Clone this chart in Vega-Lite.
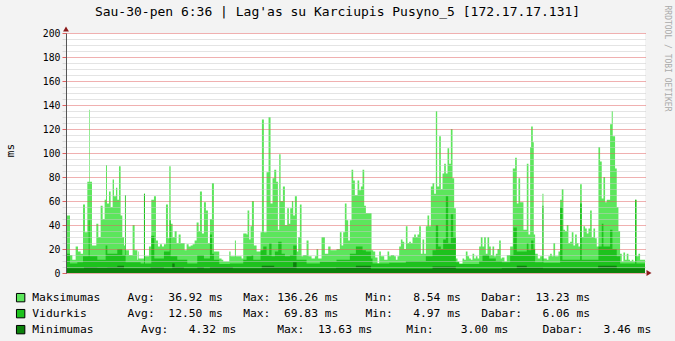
{
"$schema":"https://vega.github.io/schema/vega-lite/v6.json",
"width":579,"height":240,
"autosize":"none",
"padding":{"left":66,"top":33,"right":30,"bottom":68},
"background":"#F3F3F3",
"config":{"view":{"fill":"#FFFFFF","stroke":null},"font":"DejaVu Sans Mono","axis":{"labelFont":"DejaVu Sans Mono","titleFont":"DejaVu Sans Mono"}},
"title":{"text":"Sau-30-pen 6:36 | Lag'as su Karciupis Pusyno_5 [172.17.17.131]","font":"DejaVu Sans Mono","fontSize":13,"fontWeight":"normal","color":"#000000","anchor":"middle","frame":"group","dx":-18,"dy":27,"offset":13},
"datasets":{
"mx":[{"t":6.6,"v":48},{"t":7.76,"v":15},{"t":8.44,"v":11},{"t":9.40,"v":22},{"t":10.08,"v":18},{"t":10.85,"v":16},{"t":11.53,"v":57},{"t":12.11,"v":34},{"t":12.79,"v":76},{"t":13.37,"v":136},{"t":13.56,"v":76},{"t":14.14,"v":23},{"t":15.40,"v":41},{"t":15.98,"v":30},{"t":16.65,"v":56},{"t":17.23,"v":45},{"t":17.81,"v":61},{"t":18.20,"v":90},{"t":18.49,"v":58},{"t":19.07,"v":68},{"t":19.55,"v":55},{"t":20.13,"v":78},{"t":20.52,"v":64},{"t":21.10,"v":71},{"t":21.49,"v":61},{"t":21.97,"v":89},{"t":22.45,"v":48},{"t":22.94,"v":30},{"t":23.42,"v":23},{"t":23.71,"v":65},{"t":23.90,"v":19},{"t":24.87,"v":15},{"t":25.93,"v":40},{"t":26.51,"v":19},{"t":27.29,"v":11},{"t":27.48,"v":18},{"t":27.67,"v":12},{"t":29.22,"v":66},{"t":29.51,"v":14},{"t":30.67,"v":22},{"t":31.35,"v":61},{"t":32.12,"v":64},{"t":32.70,"v":27},{"t":33.28,"v":22},{"t":33.86,"v":24},{"t":34.44,"v":22},{"t":35.02,"v":24},{"t":35.60,"v":57},{"t":36.18,"v":29},{"t":36.57,"v":89},{"t":36.96,"v":41},{"t":37.54,"v":30},{"t":38.12,"v":35},{"t":38.70,"v":25},{"t":39.28,"v":32},{"t":39.86,"v":25},{"t":41.02,"v":19},{"t":41.60,"v":24},{"t":42.18,"v":22},{"t":42.76,"v":23},{"t":43.34,"v":24},{"t":43.92,"v":27},{"t":44.50,"v":42},{"t":45.08,"v":35},{"t":45.46,"v":68},{"t":46.04,"v":33},{"t":46.62,"v":59},{"t":47.20,"v":52},{"t":47.78,"v":25},{"t":48.36,"v":45},
{"t":48.94,"v":75},{"t":49.52,"v":18},{"t":51.07,"v":12},{"t":51.74,"v":11},{"t":52.23,"v":9.5},{"t":53.97,"v":18},{"t":54.35,"v":14},{"t":55.61,"v":27},{"t":55.90,"v":14},{"t":57.54,"v":12},{"t":58.03,"v":33},{"t":58.99,"v":32},{"t":59.28,"v":52},{"t":59.77,"v":28},{"t":60.15,"v":39},{"t":60.54,"v":60},{"t":61.12,"v":23},{"t":61.90,"v":18},{"t":63.05,"v":34},{"t":63.44,"v":128},{"t":64.02,"v":34},{"t":64.79,"v":84},{"t":65.37,"v":130},{"t":65.95,"v":58},{"t":66.53,"v":79},{"t":67.02,"v":86},{"t":67.60,"v":76},{"t":68.08,"v":36},{"t":68.47,"v":99},{"t":68.86,"v":60},{"t":69.53,"v":72},{"t":70.11,"v":40},{"t":70.79,"v":54},{"t":71.27,"v":41},{"t":71.66,"v":54},{"t":72.14,"v":60},{"t":72.53,"v":48},{"t":73.01,"v":64},{"t":73.59,"v":18},{"t":73.98,"v":30},{"t":74.46,"v":57},{"t":74.95,"v":14},{"t":75.43,"v":15},{"t":76.40,"v":27},{"t":76.98,"v":14},{"t":77.85,"v":12},{"t":78.81,"v":14},{"t":79.30,"v":20},{"t":79.78,"v":12},{"t":80.75,"v":30},{"t":81.71,"v":16},{"t":82.68,"v":22},{"t":83.36,"v":19},{"t":85.09,"v":20},{"t":86.06,"v":34},{"t":86.55,"v":23},{"t":87.03,"v":34},{"t":87.51,"v":58},{"t":88.00,"v":44},{"t":88.48,"v":27},{"t":88.96,"v":44},{"t":89.45,"v":86},{"t":89.93,"v":77},{"t":90.41,"v":65},
{"t":91.19,"v":77},{"t":91.68,"v":69},{"t":92.16,"v":72},{"t":92.64,"v":86},{"t":93.13,"v":56},{"t":93.61,"v":50},{"t":95.25,"v":19},{"t":95.74,"v":18},{"t":96.32,"v":13},{"t":96.99,"v":8},{"t":97.48,"v":18},{"t":97.96,"v":14},{"t":98.93,"v":11},{"t":99.89,"v":18},{"t":100.38,"v":14},{"t":100.86,"v":15},{"t":101.83,"v":14},{"t":102.31,"v":11},{"t":102.79,"v":14},{"t":103.28,"v":22},{"t":103.76,"v":28},{"t":104.24,"v":26},{"t":104.73,"v":20},{"t":105.21,"v":39},{"t":105.69,"v":25},{"t":106.18,"v":26},{"t":106.66,"v":25},{"t":107.14,"v":30},{"t":107.63,"v":32},{"t":108.11,"v":30},{"t":108.59,"v":32},{"t":109.08,"v":39},{"t":109.56,"v":16},{"t":110.04,"v":28},{"t":110.53,"v":16},{"t":111.01,"v":39},{"t":111.49,"v":48},{"t":111.98,"v":39},{"t":112.46,"v":72},{"t":112.95,"v":75},{"t":113.43,"v":66},{"t":113.91,"v":135},{"t":114.30,"v":72},{"t":114.88,"v":114},{"t":115.36,"v":70},{"t":115.85,"v":83},{"t":116.33,"v":91},{"t":116.81,"v":83},{"t":117.30,"v":104},{"t":117.78,"v":91},{"t":118.26,"v":120},{"t":118.75,"v":79},{"t":119.23,"v":54},{"t":119.71,"v":12},{"t":120.20,"v":9.5},{"t":120.68,"v":8},{"t":121.65,"v":12},{"t":122.13,"v":11},{"t":122.61,"v":18},{"t":123.10,"v":14},{"t":123.58,"v":12},{"t":124.06,"v":11},{"t":124.55,"v":16},{"t":125.03,"v":12},{"t":125.51,"v":14},{"t":126.00,"v":12},{"t":126.48,"v":22},{"t":126.96,"v":30},{"t":127.45,"v":22},{"t":127.93,"v":30},{"t":128.41,"v":16},{"t":128.90,"v":30},{"t":129.38,"v":22},{"t":129.86,"v":15},{"t":130.35,"v":22},{"t":130.83,"v":14},{"t":131.31,"v":16},{"t":131.80,"v":20},{"t":132.28,"v":27},{"t":132.76,"v":12},
{"t":133.05,"v":13},{"t":133.82,"v":9.5},{"t":134.50,"v":15},{"t":135.47,"v":22},{"t":136.24,"v":87},{"t":136.92,"v":96},{"t":137.40,"v":58},{"t":137.88,"v":79},{"t":138.37,"v":59},{"t":139.33,"v":36},{"t":140.30,"v":91},{"t":140.78,"v":32},{"t":141.27,"v":105},{"t":141.56,"v":122},{"t":142.04,"v":109},{"t":142.33,"v":32},{"t":142.72,"v":16},{"t":143.49,"v":12},{"t":144.17,"v":14},{"t":144.84,"v":66},{"t":145.13,"v":12},{"t":146.10,"v":11},{"t":146.58,"v":14},{"t":147.07,"v":16},{"t":147.55,"v":14},{"t":148.03,"v":25},{"t":148.52,"v":14},{"t":149.48,"v":18},{"t":149.97,"v":61},{"t":150.45,"v":70},{"t":150.93,"v":36},{"t":151.42,"v":35},{"t":151.90,"v":40},{"t":152.38,"v":25},{"t":152.87,"v":26},{"t":153.35,"v":34},{"t":153.83,"v":23},{"t":154.32,"v":32},{"t":154.80,"v":25},{"t":155.29,"v":22},{"t":155.77,"v":74},{"t":156.25,"v":30},{"t":156.74,"v":39},{"t":157.22,"v":37},{"t":157.70,"v":33},{"t":158.19,"v":37},{"t":158.67,"v":52},{"t":159.15,"v":30},{"t":159.64,"v":37},{"t":160.12,"v":29},{"t":160.60,"v":22},{"t":161.09,"v":105},{"t":161.57,"v":93},{"t":162.05,"v":62},{"t":162.54,"v":80},{"t":163.02,"v":59},{"t":163.50,"v":61},{"t":164.47,"v":124},{"t":164.95,"v":135},{"t":165.24,"v":114},{"t":165.92,"v":87},{"t":166.40,"v":55},{"t":166.89,"v":35},{"t":167.37,"v":16},{"t":167.85,"v":9.5},{"t":168.34,"v":17},{"t":168.82,"v":11},{"t":169.30,"v":16},{"t":169.79,"v":11},{"t":170.27,"v":10},{"t":170.75,"v":11},{"t":171.24,"v":9.5},{"t":171.72,"v":61},{"t":172.11,"v":14},{"t":172.69,"v":16},{"t":173.17,"v":11},{"t":174.6,"v":11}],
"av":[{"t":6.6,"v":16},{"t":7.76,"v":8},{"t":9.89,"v":9},{"t":11.53,"v":14},{"t":13.17,"v":44},{"t":13.46,"v":14},{"t":15.69,"v":11},{"t":18.10,"v":23},{"t":18.59,"v":16},{"t":21.49,"v":20},{"t":22.94,"v":15},{"t":23.71,"v":65},{"t":23.90,"v":9},{"t":28.25,"v":8},{"t":29.22,"v":66},{"t":29.51,"v":8},{"t":31.35,"v":31},{"t":32.22,"v":12},{"t":35.02,"v":18},{"t":36.67,"v":44},{"t":36.96,"v":14},{"t":38.89,"v":11},{"t":41.79,"v":8},{"t":44.69,"v":15},{"t":46.62,"v":12},
{"t":48.36,"v":32},{"t":48.94,"v":16},{"t":49.52,"v":11},{"t":51.07,"v":7.5},{"t":54.16,"v":8},{"t":58.03,"v":11},{"t":58.99,"v":14},{"t":60.45,"v":15},{"t":60.93,"v":11},{"t":63.05,"v":19},{"t":63.83,"v":22},{"t":64.79,"v":15},{"t":65.57,"v":25},{"t":66.24,"v":14},{"t":67.21,"v":18},{"t":68.18,"v":26},{"t":69.15,"v":16},{"t":70.11,"v":14},{"t":71.56,"v":15},{"t":72.53,"v":23},{"t":73.49,"v":11},{"t":76.40,"v":8},{"t":80.26,"v":9.5},{"t":85.09,"v":11},{"t":88.96,"v":16},
{"t":90.71,"v":22},{"t":92.64,"v":19},{"t":93.61,"v":18},{"t":95.06,"v":12},{"t":95.54,"v":8},{"t":100.38,"v":8.5},{"t":105.21,"v":10},{"t":111.01,"v":14},{"t":112.95,"v":19},{"t":113.91,"v":40},{"t":114.59,"v":22},{"t":115.36,"v":20},{"t":116.04,"v":28},{"t":116.81,"v":64},{"t":117.49,"v":25},{"t":118.26,"v":49},{"t":118.94,"v":30},{"t":119.71,"v":9},{"t":120.68,"v":7.5},{"t":126.48,"v":10},{"t":127.45,"v":15},{"t":129.38,"v":12},{"t":131.31,"v":10},
{"t":133.05,"v":9},{"t":135.47,"v":15},{"t":136.43,"v":38},{"t":137.40,"v":18},{"t":140.30,"v":25},{"t":140.78,"v":19},{"t":141.56,"v":27},{"t":142.24,"v":20},{"t":142.72,"v":9},{"t":144.84,"v":56},{"t":145.13,"v":8.6},{"t":149.97,"v":55},{"t":150.65,"v":11},{"t":155.77,"v":58},{"t":156.25,"v":11},{"t":161.09,"v":22},{"t":162.05,"v":41},{"t":162.54,"v":22},{"t":164.47,"v":36},{"t":165.15,"v":20},{"t":166.40,"v":14},{"t":167.37,"v":8},{"t":171.72,"v":61},{"t":172.11,"v":8},{"t":174.6,"v":8}],
"mn":[{"t":6.6,"v":4},{"t":11.82,"v":5},{"t":15.69,"v":4.5},{"t":18.59,"v":5},{"t":21.49,"v":6},{"t":23.42,"v":4},{"t":31.16,"v":5},{"t":35.02,"v":4},{"t":37.44,"v":8},{"t":38.12,"v":5},{"t":40.82,"v":4},{"t":44.69,"v":5},{"t":46.62,"v":4},{"t":48.36,"v":5},{"t":55,"v":4},{"t":63.4,"v":6},{"t":67,"v":5},{"t":72.5,"v":9},{"t":73.5,"v":4},{"t":85,"v":4.5},{"t":90.71,"v":6},{"t":95.06,"v":3.5},{"t":112.95,"v":5.5},{"t":119.71,"v":3.5},{"t":133.05,"v":4},{"t":137.4,"v":6},{"t":140.3,"v":4.5},{"t":145,"v":4},{"t":161,"v":6},{"t":166.4,"v":4},{"t":174.6,"v":4}],
"one":[{"k":1}]
},
"resolve":{"axis":{"y":"independent"}},
"layer":[
{"data":{"name":"mx"},"mark":{"type":"area","interpolate":"step-after"},
 "encoding":{
  "x":{"field":"t","type":"quantitative","scale":{"domain":[6.6,174.6],"nice":false,"zero":false},
   "axis":{"title":null,"values":[12,18,24,30,36,42,48,54,60,66,72,78,84,90,96,102,108,114,120,126,132,138,144,150,156,162,168,174],
    "labelExpr":"datum.value % 24 === 12 ? ['Fri','Sat','Sun','Mon','Tue','Wed','Thu'][floor(datum.value / 24)] : ''",
    "labelFontSize":9.8,"labelColor":"#000000","labelPadding":3,"labelOverlap":false,"labelFlush":false,
    "grid":true,"gridColor":{"condition":{"test":"datum.value % 24 === 0","value":"#E06060"},"value":"#C8C8C8"},"gridDash":[1,1],
    "tickSize":3,"tickColor":{"condition":{"test":"datum.value % 24 === 0","value":"#E06060"},"value":"#C8C8C8"},
    "domainColor":"#555555","zindex":1}},
  "y":{"field":"v","type":"quantitative","stack":null,"scale":{"domain":[0,200],"nice":false,"zero":true},
   "axis":{"title":"ms","titleFontSize":11,"titleFontWeight":"normal","titleColor":"#000000","titleX":-55.5,"titleY":117,"titleAngle":-90,"titleAlign":"center","titleBaseline":"middle",
    "values":[0,5,10,15,20,25,30,35,40,45,50,55,60,65,70,75,80,85,90,95,100,105,110,115,120,125,130,135,140,145,150,155,160,165,170,175,180,185,190,195,200],
    "labelExpr":"datum.value % 20 === 0 ? datum.label : ''","labelFontSize":9.8,"labelColor":"#000000","labelPadding":2,"labelOverlap":false,"labelFlush":false,
    "grid":true,"gridColor":{"condition":{"test":"datum.value % 20 === 0","value":"#E06060"},"value":"#C8C8C8"},"gridDash":[1,1],
    "tickSize":4,"tickColor":{"condition":{"test":"datum.value % 20 === 0","value":"#E06060"},"value":"#D8D8D8"},
    "domainColor":"#555555","zindex":1}},
  "color":{"datum":"Maksimumas","type":"nominal","scale":{"domain":["Maksimumas","Vidurkis","Minimumas"],"range":["#5CE65C","#1DC21D","#0B820B"]},
   "legend":{"title":null,"orient":"none","legendX":-51,"legendY":259,"direction":"vertical","symbolType":"square","symbolSize":70,"symbolStrokeColor":"#000000","symbolStrokeWidth":1,"symbolOpacity":1,"labelFont":"DejaVu Sans Mono","labelFontSize":11.3,"labelColor":"#000000","labelLimit":0,"labelOffset":6,"rowPadding":3,
    "labelExpr":"datum.label === 'Maksimumas' ? 'Maksimumas\u00a0\u00a0\u00a0\u00a0Avg:\u00a0\u00a036.92\u00a0ms\u00a0\u00a0\u00a0Max:\u00a0136.26\u00a0ms\u00a0\u00a0\u00a0\u00a0Min:\u00a0\u00a0\u00a08.54\u00a0ms\u00a0\u00a0\u00a0Dabar:\u00a0\u00a013.23\u00a0ms' : datum.label === 'Vidurkis' ? 'Vidurkis\u00a0\u00a0\u00a0\u00a0\u00a0\u00a0Avg:\u00a0\u00a012.50\u00a0ms\u00a0\u00a0\u00a0Max:\u00a0\u00a069.83\u00a0ms\u00a0\u00a0\u00a0\u00a0Min:\u00a0\u00a0\u00a04.97\u00a0ms\u00a0\u00a0\u00a0Dabar:\u00a0\u00a0\u00a06.06\u00a0ms' : 'Minimumas\u00a0\u00a0\u00a0\u00a0\u00a0\u00a0\u00a0Avg:\u00a0\u00a0\u00a04.32\u00a0ms\u00a0\u00a0\u00a0\u00a0\u00a0\u00a0Max:\u00a0\u00a013.63\u00a0ms\u00a0\u00a0\u00a0\u00a0\u00a0Min:\u00a0\u00a0\u00a0\u00a03.00\u00a0ms\u00a0\u00a0\u00a0\u00a0\u00a0Dabar:\u00a0\u00a0\u00a03.46\u00a0ms'"}}
 }},
{"data":{"name":"av"},"mark":{"type":"area","interpolate":"step-after"},
 "encoding":{
  "x":{"field":"t","type":"quantitative","axis":null},
  "y":{"field":"v","type":"quantitative","stack":null,"axis":null},
  "color":{"datum":"Vidurkis","type":"nominal","scale":{"domain":["Maksimumas","Vidurkis","Minimumas"],"range":["#5CE65C","#1DC21D","#0B820B"]},
   "legend":{"title":null,"orient":"none","legendX":-51,"legendY":259,"direction":"vertical","symbolType":"square","symbolSize":70,"symbolStrokeColor":"#000000","symbolStrokeWidth":1,"symbolOpacity":1,"labelFont":"DejaVu Sans Mono","labelFontSize":11.3,"labelColor":"#000000","labelLimit":0,"labelOffset":6,"rowPadding":3,
    "labelExpr":"datum.label === 'Maksimumas' ? 'Maksimumas\u00a0\u00a0\u00a0\u00a0Avg:\u00a0\u00a036.92\u00a0ms\u00a0\u00a0\u00a0Max:\u00a0136.26\u00a0ms\u00a0\u00a0\u00a0\u00a0Min:\u00a0\u00a0\u00a08.54\u00a0ms\u00a0\u00a0\u00a0Dabar:\u00a0\u00a013.23\u00a0ms' : datum.label === 'Vidurkis' ? 'Vidurkis\u00a0\u00a0\u00a0\u00a0\u00a0\u00a0Avg:\u00a0\u00a012.50\u00a0ms\u00a0\u00a0\u00a0Max:\u00a0\u00a069.83\u00a0ms\u00a0\u00a0\u00a0\u00a0Min:\u00a0\u00a0\u00a04.97\u00a0ms\u00a0\u00a0\u00a0Dabar:\u00a0\u00a0\u00a06.06\u00a0ms' : 'Minimumas\u00a0\u00a0\u00a0\u00a0\u00a0\u00a0\u00a0Avg:\u00a0\u00a0\u00a04.32\u00a0ms\u00a0\u00a0\u00a0\u00a0\u00a0\u00a0Max:\u00a0\u00a013.63\u00a0ms\u00a0\u00a0\u00a0\u00a0\u00a0Min:\u00a0\u00a0\u00a0\u00a03.00\u00a0ms\u00a0\u00a0\u00a0\u00a0\u00a0Dabar:\u00a0\u00a0\u00a03.46\u00a0ms'"}}
 }},
{"data":{"name":"mn"},"mark":{"type":"area","interpolate":"step-after"},
 "encoding":{
  "x":{"field":"t","type":"quantitative","axis":null},
  "y":{"field":"v","type":"quantitative","stack":null,"axis":null},
  "color":{"datum":"Minimumas","type":"nominal","scale":{"domain":["Maksimumas","Vidurkis","Minimumas"],"range":["#5CE65C","#1DC21D","#0B820B"]},
   "legend":{"title":null,"orient":"none","legendX":-51,"legendY":259,"direction":"vertical","symbolType":"square","symbolSize":70,"symbolStrokeColor":"#000000","symbolStrokeWidth":1,"symbolOpacity":1,"labelFont":"DejaVu Sans Mono","labelFontSize":11.3,"labelColor":"#000000","labelLimit":0,"labelOffset":6,"rowPadding":3,
    "labelExpr":"datum.label === 'Maksimumas' ? 'Maksimumas\u00a0\u00a0\u00a0\u00a0Avg:\u00a0\u00a036.92\u00a0ms\u00a0\u00a0\u00a0Max:\u00a0136.26\u00a0ms\u00a0\u00a0\u00a0\u00a0Min:\u00a0\u00a0\u00a08.54\u00a0ms\u00a0\u00a0\u00a0Dabar:\u00a0\u00a013.23\u00a0ms' : datum.label === 'Vidurkis' ? 'Vidurkis\u00a0\u00a0\u00a0\u00a0\u00a0\u00a0Avg:\u00a0\u00a012.50\u00a0ms\u00a0\u00a0\u00a0Max:\u00a0\u00a069.83\u00a0ms\u00a0\u00a0\u00a0\u00a0Min:\u00a0\u00a0\u00a04.97\u00a0ms\u00a0\u00a0\u00a0Dabar:\u00a0\u00a0\u00a06.06\u00a0ms' : 'Minimumas\u00a0\u00a0\u00a0\u00a0\u00a0\u00a0\u00a0Avg:\u00a0\u00a0\u00a04.32\u00a0ms\u00a0\u00a0\u00a0\u00a0\u00a0\u00a0Max:\u00a0\u00a013.63\u00a0ms\u00a0\u00a0\u00a0\u00a0\u00a0Min:\u00a0\u00a0\u00a0\u00a03.00\u00a0ms\u00a0\u00a0\u00a0\u00a0\u00a0Dabar:\u00a0\u00a0\u00a03.46\u00a0ms'"}}
 }},
{"data":{"name":"one"},"mark":{"type":"point","shape":"triangle-up","filled":true,"size":34,"fill":"#8B1A1A","stroke":"#8B1A1A","strokeWidth":0,"opacity":1,"yOffset":-4,"clip":false},
 "encoding":{
  "x":{"datum":6.6,"type":"quantitative","axis":null},
  "y":{"datum":200,"type":"quantitative","axis":{"orient":"right","title":"RRDTOOL / TOBI OETIKER","titleFont":"DejaVu Sans Mono","titleFontSize":8,"titleFontWeight":"normal","titleColor":"#AAAAAA","titleAngle":90,"titleAlign":"left","titleBaseline":"middle","titleX":21,"titleY":-28,"labels":false,"ticks":false,"domain":false,"grid":false}}
 }},
{"data":{"name":"one"},"mark":{"type":"point","shape":"triangle-right","filled":true,"size":34,"fill":"#8B1A1A","stroke":"#8B1A1A","strokeWidth":0,"opacity":1,"xOffset":4,"clip":false},
 "encoding":{
  "x":{"datum":174.6,"type":"quantitative","axis":null},
  "y":{"datum":0,"type":"quantitative","axis":null}
 }}
]
}
